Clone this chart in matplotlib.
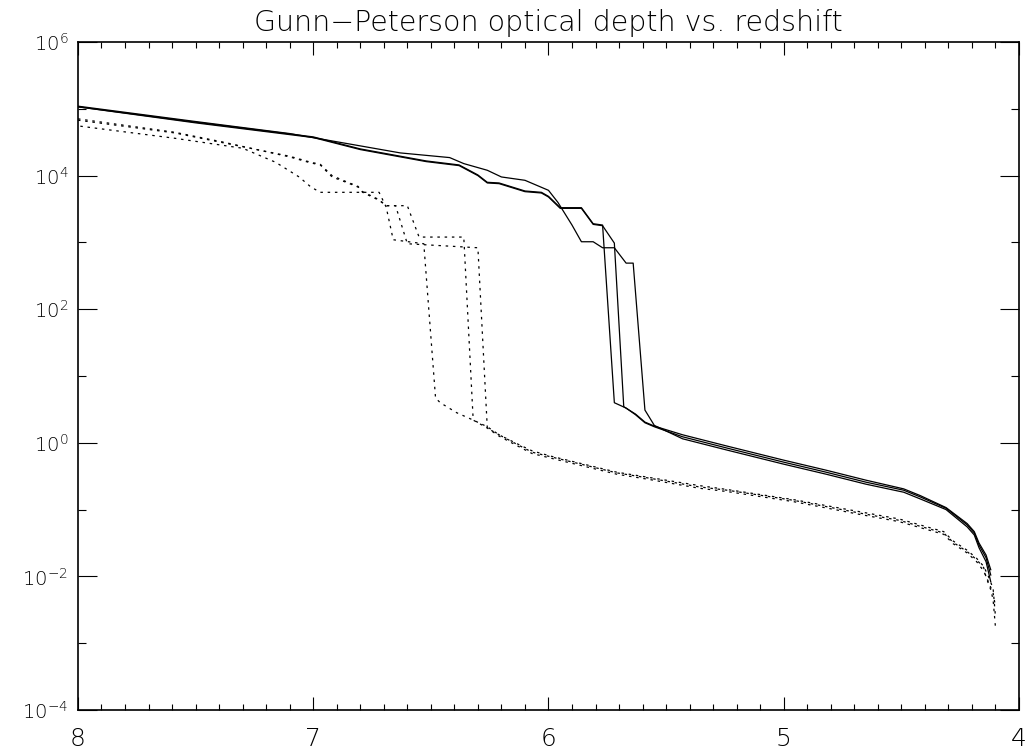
import numpy as np
import matplotlib
matplotlib.use("Agg")
import matplotlib.pyplot as plt
from matplotlib.ticker import FixedLocator, MultipleLocator, FormatStrFormatter, NullFormatter

# redshift / log10(optical depth)
# solid curves
z_sol_a = [8.00, 7.50, 7.00, 6.80, 6.52, 6.38, 6.30, 6.26, 6.21, 6.10, 6.03, 6.00, 5.95, 5.86, 5.81, 5.77, 5.72,
           5.67, 5.63, 5.59, 5.55, 5.43, 5.24, 5.00, 4.82, 4.65, 4.49, 4.42, 4.31, 4.22, 4.19, 4.17, 4.14, 4.12]
lt_sol_a = [5.03, 4.80, 4.58, 4.40, 4.22, 4.16, 4.01, 3.90, 3.89, 3.77, 3.75, 3.69, 3.52, 3.52, 3.28, 3.26, 0.60,
            0.52, 0.42, 0.30, 0.24, 0.09, -0.08, -0.29, -0.44, -0.59, -0.71, -0.81, -0.98, -1.23, -1.35, -1.53, -1.72, -1.98]

z_sol_b = [8.00, 7.50, 7.00, 6.80, 6.52, 6.38, 6.30, 6.26, 6.21, 6.10, 6.03, 6.00, 5.95, 5.86, 5.81, 5.77, 5.72,
           5.68, 5.63, 5.59, 5.55, 5.43, 5.24, 5.00, 4.82, 4.65, 4.49, 4.42, 4.31, 4.22, 4.19, 4.17, 4.14, 4.12]
lt_sol_b = [5.03, 4.79, 4.57, 4.39, 4.21, 4.15, 4.00, 3.89, 3.88, 3.76, 3.74, 3.68, 3.51, 3.51, 3.27, 3.25, 2.99,
            0.54, 0.43, 0.31, 0.25, 0.12, -0.05, -0.26, -0.41, -0.56, -0.69, -0.79, -0.97, -1.21, -1.33, -1.50, -1.68, -1.90]

z_sol_c = [8.00, 7.50, 7.10, 6.84, 6.63, 6.42, 6.36, 6.26, 6.20, 6.10, 6.00, 5.96, 5.90, 5.86, 5.81, 5.77, 5.72,
           5.67, 5.64, 5.59, 5.55, 5.43, 5.24, 5.00, 4.82, 4.65, 4.49, 4.42, 4.31, 4.22, 4.19, 4.17, 4.14, 4.12]
lt_sol_c = [5.04, 4.81, 4.63, 4.47, 4.34, 4.27, 4.18, 4.08, 3.98, 3.93, 3.78, 3.60, 3.26, 3.01, 3.01, 2.92, 2.92,
            2.69, 2.69, 0.49, 0.26, 0.06, -0.11, -0.32, -0.47, -0.62, -0.74, -0.84, -1.00, -1.26, -1.38, -1.57, -1.78, -2.08]

# dotted curves
z_dot_a = [7.99, 7.59, 7.30, 7.16, 7.06, 7.01, 6.97, 6.72, 6.69, 6.66, 6.53, 6.48, 6.46, 6.39, 6.32, 6.26, 6.21,
           6.13, 6.07, 5.99, 5.85, 5.71, 5.57, 5.36, 5.24, 4.96, 4.68, 4.51, 4.41, 4.32, 4.28, 4.22, 4.18, 4.15,
           4.14, 4.12, 4.11, 4.10]
lt_dot_a = [4.74, 4.56, 4.41, 4.20, 3.98, 3.83, 3.75, 3.75, 3.53, 3.04, 2.98, 0.67, 0.60, 0.45, 0.34, 0.24, 0.12,
            -0.03, -0.14, -0.21, -0.33, -0.45, -0.53, -0.66, -0.71, -0.86, -1.05, -1.16, -1.26, -1.35, -1.49, -1.63,
            -1.75, -1.87, -2.01, -2.20, -2.35, -2.76]

z_dot_b = [8.00, 7.59, 7.38, 7.10, 7.01, 6.97, 6.92, 6.86, 6.81, 6.79, 6.72, 6.69, 6.60, 6.55, 6.36, 6.32, 6.26,
           6.21, 6.13, 6.07, 5.99, 5.85, 5.71, 5.57, 5.36, 5.24, 4.96, 4.68, 4.51, 4.41, 4.32, 4.28, 4.22, 4.18,
           4.15, 4.13, 4.11, 4.10]
lt_dot_b = [4.85, 4.65, 4.50, 4.28, 4.19, 4.16, 3.98, 3.90, 3.83, 3.75, 3.63, 3.55, 3.55, 3.08, 3.08, 0.34, 0.22,
            0.10, -0.05, -0.16, -0.23, -0.35, -0.47, -0.55, -0.68, -0.73, -0.88, -1.07, -1.18, -1.28, -1.37, -1.51,
            -1.65, -1.78, -1.92, -2.08, -2.25, -2.45]

z_dot_c = [8.00, 7.59, 7.38, 7.10, 7.01, 6.97, 6.92, 6.86, 6.81, 6.79, 6.72, 6.69, 6.65, 6.60, 6.30, 6.26, 6.21,
           6.13, 6.07, 5.99, 5.85, 5.71, 5.57, 5.36, 5.24, 4.96, 4.68, 4.51, 4.41, 4.32, 4.28, 4.22, 4.18, 4.15,
           4.13, 4.11, 4.10]
lt_dot_c = [4.83, 4.64, 4.49, 4.29, 4.20, 4.17, 4.00, 3.91, 3.84, 3.76, 3.64, 3.55, 3.55, 2.98, 2.92, 0.22, 0.12,
            -0.02, -0.12, -0.20, -0.32, -0.44, -0.52, -0.64, -0.70, -0.85, -1.03, -1.14, -1.24, -1.33, -1.47, -1.61,
            -1.73, -1.85, -2.00, -2.18, -2.60]

ytick_exps = [-4, -2, 0, 2, 4, 6]
xtick_vals = [8, 7, 6, 5, 4]

plt.rcParams['font.family'] = ['DejaVu Sans']
plt.rcParams['font.weight'] = 'light'
plt.rcParams['mathtext.default'] = 'regular'

fig = plt.figure(figsize=(10.3, 7.52), dpi=100)
ax = fig.add_axes([0.0757, 0.0559, 0.9136, 0.8882])

for z, lt in [(z_sol_a, lt_sol_a), (z_sol_b, lt_sol_b), (z_sol_c, lt_sol_c)]:
    ax.plot(z, 10.0 ** np.array(lt), color='black', lw=0.9)
for z, lt in [(z_dot_a, lt_dot_a), (z_dot_b, lt_dot_b), (z_dot_c, lt_dot_c)]:
    ax.plot(z, 10.0 ** np.array(lt), color='black', lw=0.9, dashes=(2.0, 3.8))

ax.set_yscale('log')
ax.set_xlim(8, 4)
ax.set_ylim(1e-4, 1e6)

ax.xaxis.set_major_locator(FixedLocator(xtick_vals))
ax.xaxis.set_minor_locator(MultipleLocator(0.1))
ax.xaxis.set_major_formatter(FormatStrFormatter('%d'))
ax.yaxis.set_major_locator(FixedLocator([10.0 ** e for e in ytick_exps]))
ax.yaxis.set_minor_locator(FixedLocator([10.0 ** (e + 1) for e in ytick_exps[:-1]]))
ax.yaxis.set_minor_formatter(NullFormatter())
ax.set_yticklabels([f'$10^{{{e}}}$' for e in ytick_exps])

ax.tick_params(axis='x', which='major', direction='in', length=9.5, width=0.8, top=True, labelsize=18, pad=12,
               labelcolor='black')
ax.tick_params(axis='x', which='minor', direction='in', length=4.3, width=0.8, top=True)
ax.tick_params(axis='y', which='major', direction='in', length=13.5, width=0.8, right=True, labelsize=14, pad=7,
               labelcolor='black')
ax.tick_params(axis='y', which='minor', direction='in', length=6, width=0.8, right=True)
for sp in ax.spines.values():
    sp.set_linewidth(1.2)

ax.set_title('Gunn\u2212Peterson optical depth vs. redshift', fontsize=20.5, fontweight='light', pad=8)

fig.savefig('out.png', dpi=100)
